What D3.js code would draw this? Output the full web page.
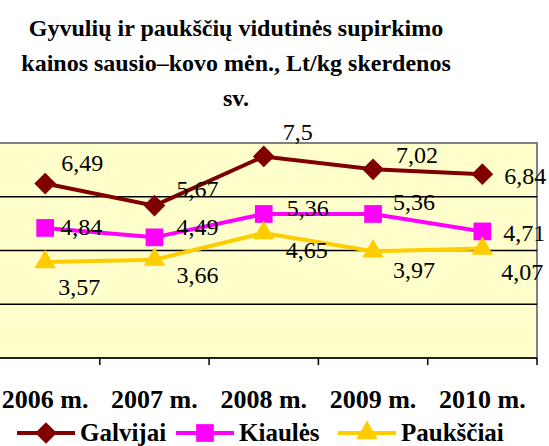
<!DOCTYPE html>
<html>
<head>
<meta charset="utf-8">
<script src="https://cdn.jsdelivr.net/npm/d3@7"></script>
<style>
  body { margin: 0; background: #fff; }
  svg { display: block; }
</style>
</head>
<body>
<div id="chart"></div>
<script>
// data
const years = ["2006 m.", "2007 m.", "2008 m.", "2009 m.", "2010 m."];
const galvijai = [6.49, 5.67, 7.5, 7.02, 6.84];
const kiaules = [4.84, 4.49, 5.36, 5.36, 4.71];
const paukstiai = [3.57, 3.66, 4.65, 3.97, 4.07];
const yTicks = [0, 2, 4, 6, 8];
const titleLines = ["Gyvulių ir paukščių vidutinės supirkimo", "kainos sausio–kovo mėn., Lt/kg skerdenos", "sv."];

// label nudges (px from marker centre), as placed in the original
const galvijaiShift = [[37, -21], [43, -17], [34, -24], [44, -14], [43, 2]];
const kiaulesShift = [[36, -1], [43, -10], [44, -6], [41, -12], [42, 2]];
const paukstiaiShift = [[34, 25], [43, 15], [43, 17], [41, 19], [40, 23]];

const series = [
    {name: "Galvijai", values: galvijai, shift: galvijaiShift, color: "#800000", shape: d3.symbolDiamond2},
    {name: "Kiaulės", values: kiaules, shift: kiaulesShift, color: "#FF00FF", shape: d3.symbolSquare2},
    {name: "Paukščiai", values: paukstiai, shift: paukstiaiShift, color: "#FFCC00", shape: d3.symbolTriangle2}
];

const W = 549, H = 446;
const plot = {left: -9.5, right: 537, top: 143, bottom: 358};
const serif = "'Liberation Serif', 'Times New Roman', serif";

const svg = d3.select("#chart").append("svg")
    .attr("width", W)
    .attr("height", H);

const x = d3.scaleBand()
    .domain(years)
    .range([plot.left, plot.right]);

const y = d3.scaleLinear()
    .domain([0, 8])
    .range([plot.bottom, plot.top]);

// title
svg.append("text")
    .attr("x", 236)
    .attr("y", 36)
    .attr("text-anchor", "middle")
    .attr("font-family", serif)
    .attr("font-weight", "bold")
    .attr("font-size", 24)
    .selectAll("tspan")
    .data(titleLines)
    .join("tspan")
    .attr("x", 236)
    .attr("dy", (d, i) => i === 0 ? 0 : 35)
    .text(d => d);

// plot area
svg.append("rect")
    .attr("x", plot.left)
    .attr("y", plot.top)
    .attr("width", plot.right - plot.left)
    .attr("height", plot.bottom - plot.top)
    .attr("fill", "#FFFFCC")
    .attr("stroke", "#808080")
    .attr("stroke-width", 2);

// gridlines
svg.append("g")
    .selectAll("line")
    .data(yTicks.filter(t => t > 0 && t < 8))
    .join("line")
    .attr("x1", plot.left)
    .attr("x2", plot.right)
    .attr("y1", d => y(d))
    .attr("y2", d => y(d))
    .attr("stroke", "#000")
    .attr("stroke-width", 1.5);

// x axis
const xAxis = svg.append("g")
    .attr("transform", "translate(0," + plot.bottom + ")");
xAxis.append("line")
    .attr("x1", plot.left)
    .attr("x2", plot.right)
    .attr("stroke", "#000")
    .attr("stroke-width", 1.5);
xAxis.selectAll("line.tick")
    .data(years)
    .join("line")
    .attr("class", "tick")
    .attr("x1", d => x(d) + x.bandwidth())
    .attr("x2", d => x(d) + x.bandwidth())
    .attr("y1", 0)
    .attr("y2", 7)
    .attr("stroke", "#000")
    .attr("stroke-width", 1.5);
xAxis.selectAll("text")
    .data(years)
    .join("text")
    .attr("x", d => x(d) + x.bandwidth() / 2)
    .attr("y", 50)
    .attr("text-anchor", "middle")
    .attr("font-family", serif)
    .attr("font-weight", "bold")
    .attr("font-size", 26)
    .text(d => d);

// lines + markers
const line = d3.line()
    .x((d, i) => x(years[i]) + x.bandwidth() / 2)
    .y(d => y(d));

const symbolSize = {"Galvijai": 300, "Kiaulės": 400, "Paukščiai": 330};

series.forEach(s => {
    const g = svg.append("g");
    g.append("path")
        .attr("d", line(s.values))
        .attr("fill", "none")
        .attr("stroke", s.color)
        .attr("stroke-width", 4);
    g.selectAll("path.mark")
        .data(s.values)
        .join("path")
        .attr("class", "mark")
        .attr("transform", (d, i) => "translate(" + (x(years[i]) + x.bandwidth() / 2) + "," + y(d) + ")")
        .attr("d", d3.symbol().type(s.shape).size(symbolSize[s.name]))
        .attr("fill", s.color);
});

// data labels
series.forEach(s => {
    svg.append("g")
        .selectAll("text")
        .data(s.values)
        .join("text")
        .attr("x", (d, i) => x(years[i]) + x.bandwidth() / 2 + s.shift[i][0])
        .attr("y", (d, i) => y(d) + s.shift[i][1] + 8)
        .attr("text-anchor", "middle")
        .attr("font-family", serif)
        .attr("font-size", 24)
        .attr("fill", "#000")
        .text(d => String(d).replace(".", ","));
});

// legend
const legendX = [17, 176, 338];
const legend = svg.append("g")
    .selectAll("g")
    .data(series)
    .join("g")
    .attr("transform", (d, i) => "translate(" + legendX[i] + ",433)");
legend.append("line")
    .attr("x1", 0)
    .attr("x2", 58)
    .attr("stroke", d => d.color)
    .attr("stroke-width", 4);
legend.append("path")
    .attr("transform", "translate(29,0)")
    .attr("d", d => d3.symbol().type(d.shape).size(symbolSize[d.name])())
    .attr("fill", d => d.color);
legend.append("text")
    .attr("x", 63)
    .attr("y", 8)
    .attr("font-family", serif)
    .attr("font-weight", "bold")
    .attr("font-size", 25)
    .text(d => d.name);
</script>
</body>
</html>
